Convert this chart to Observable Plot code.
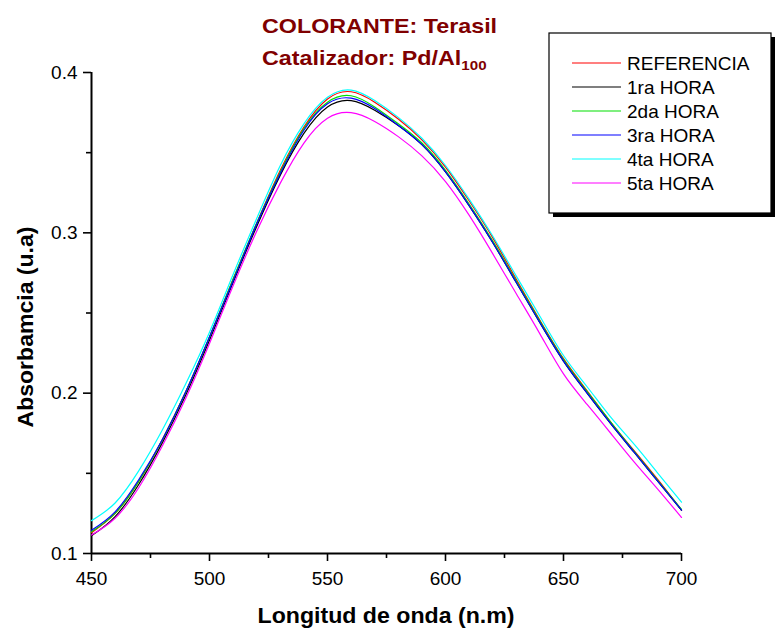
<!DOCTYPE html>
<html><head><meta charset="utf-8">
<script src="https://cdn.jsdelivr.net/npm/d3@7"></script>
<script src="https://cdn.jsdelivr.net/npm/@observablehq/plot@0.6"></script>
<style>body{margin:0;background:#fff} #chart{width:777px;height:631px}</style>
</head><body><div id="chart"></div>
<script>
const wavelengths = [450,460,470,480,490,500,510,520,530,540,550,560,570,580,590,600,610,620,630,640,650,660,670,680,690,700];
const seriesNames = ["REFERENCIA","1ra HORA","2da HORA","3ra HORA","4ta HORA","5ta HORA"];
const seriesColors = ["#ff0000","#000000","#00e000","#0000ff","#00ffff","#ff00ff"];
const referencia = [.113,.125,.145,.171,.201,.235,.271,.306,.339,.366,.3835,.388,.3815,.371,.358,.341,.320,.297,.271,.2455,.2215,.2015,.182,.164,.146,.127];
const hora1 = [.111,.123,.143,.169,.199,.233,.269,.304,.336,.362,.3785,.3825,.3765,.367,.355,.338,.317,.294,.269,.244,.220,.200,.181,.163,.145,.127];
const hora2 = [.1135,.125,.145,.171,.201,.235,.271,.306,.338,.365,.3815,.3855,.3785,.368,.356,.339,.318,.295,.270,.245,.221,.201,.182,.1635,.1455,.1275];
const hora3 = [.1145,.126,.146,.171,.201,.235,.270,.3055,.337,.364,.3805,.384,.3775,.367,.355,.338,.317,.294,.269,.244,.220,.200,.181,.163,.145,.127];
const hora4 = [.1205,.1315,.1515,.177,.206,.238,.274,.309,.342,.368,.3845,.389,.3825,.372,.359,.342,.321,.298,.273,.248,.2235,.204,.185,.168,.150,.132];
const hora5 = [.1115,.122,.141,.167,.197,.231,.267,.301,.331,.356,.3715,.375,.3695,.360,.348,.332,.311,.287,.262,.237,.212,.193,.175,.157,.140,.1225];
const xTicks = [450,500,550,600,650,700];
const xMinor = [475,525,575,625,675];
const yTicks = [0.1,0.2,0.3,0.4];
const yMinor = [0.15,0.25,0.35];
const titleLine1 = "COLORANTE: Terasil";
const titleLine2 = "Catalizador: Pd/Al";
const titleSub = "100";
const xLabel = "Longitud de onda (n.m)";
const yLabel = "Absorbamcia (u.a)";

const allSeries = [referencia,hora1,hora2,hora3,hora4,hora5];
const data = [];
allSeries.forEach((arr, s) => arr.forEach((v, i) => data.push({series: seriesNames[s], x: wavelengths[i], y: v})));

const font = "'Liberation Sans', Arial, sans-serif";
const chart = Plot.plot({
  width: 777, height: 631,
  marginLeft: 91, marginRight: 96, marginTop: 72, marginBottom: 78,
  x: {domain: [450, 700]},
  y: {domain: [0.1, 0.4]},
  color: {domain: seriesNames, range: seriesColors},
  style: {fontFamily: font, fontSize: "19px", color: "#000", background: "#fff", overflow: "visible"},
  marks: [
    Plot.axisX(xTicks, {tickSize: 8, tickPadding: 10, fontSize: 19, label: null, strokeWidth: 1.6}),
    Plot.axisX(xMinor, {tickSize: 5, text: null, label: null, strokeWidth: 1.6}),
    Plot.axisY(yTicks, {tickSize: 8, tickPadding: 6, fontSize: 19, tickFormat: d => d.toFixed(1), label: null, strokeWidth: 1.6}),
    Plot.axisY(yMinor, {tickSize: 5, text: null, label: null, strokeWidth: 1.6}),
    Plot.ruleX([450], {strokeWidth: 2}),
    Plot.ruleY([0.1], {strokeWidth: 2}),
    Plot.line(data, {x: "x", y: "y", z: "series", stroke: "series", curve: "natural", strokeWidth: 1.2})
  ]
});
document.getElementById("chart").appendChild(chart);

const svg = d3.select(chart);
// axis titles
svg.append("text").attr("x", 386).attr("y", 623).attr("text-anchor", "middle")
  .attr("font-family", font).attr("font-weight", "bold").attr("font-size", 22)
  .attr("textLength", 257).attr("lengthAdjust", "spacingAndGlyphs").text(xLabel);
svg.append("text").attr("transform", "translate(33,327) rotate(-90)").attr("text-anchor", "middle")
  .attr("font-family", font).attr("font-weight", "bold").attr("font-size", 22)
  .attr("textLength", 201).attr("lengthAdjust", "spacingAndGlyphs").text(yLabel);

// title
const t = svg.append("g").attr("transform", "translate(262,0) scale(1.165,1)")
  .attr("font-family", font).attr("font-weight", "bold").attr("font-size", 20)
  .attr("fill", "#800000").attr("text-anchor", "start");
t.append("text").attr("x", 0).attr("y", 33).text(titleLine1);
const t2 = t.append("text").attr("x", 0).attr("y", 65);
t2.append("tspan").text(titleLine2);
t2.append("tspan").attr("font-size", 13).attr("dy", 5).text(titleSub);

// legend
const lg = svg.append("g").attr("font-family", font).attr("text-anchor", "start");
lg.append("rect").attr("x", 553).attr("y", 37).attr("width", 222).attr("height", 180).attr("fill", "#000");
lg.append("rect").attr("x", 549).attr("y", 33).attr("width", 222).attr("height", 180).attr("fill", "#fff").attr("stroke", "#000").attr("stroke-width", 1.2);
seriesNames.forEach((n, i) => {
  const y = 63 + i * 24;
  lg.append("line").attr("x1", 572).attr("x2", 621).attr("y1", y).attr("y2", y).attr("stroke", seriesColors[i]).attr("stroke-width", 1.2);
  lg.append("text").attr("x", 627).attr("y", y).attr("dy", "0.35em").attr("font-size", 19).attr("fill", "#000").text(n);
});
</script>
</body></html>
